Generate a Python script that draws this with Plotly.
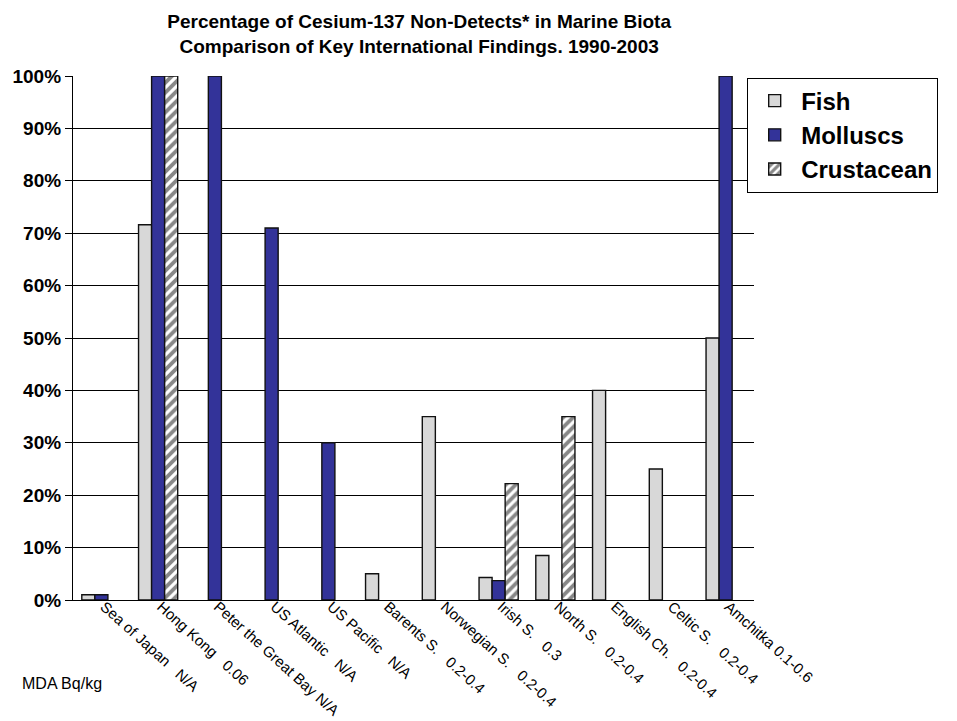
import plotly.graph_objects as go

# Sampling locations with MDA (Bq/kg) appended to each label
SP = "\u00a0\u00a0\u00a0"
locations = [
    "Sea of Japan" + SP + "N/A",
    "Hong Kong" + SP + "0.06",
    "Peter the Great Bay N/A",
    "US Atlantic" + SP + "N/A",
    "US Pacific" + SP + "N/A",
    "Barents S." + SP + "0.2-0.4",
    "Norwegian S." + SP + "0.2-0.4",
    "Irish S." + SP + "0.3",
    "North S." + SP + "0.2-0.4",
    "English Ch." + SP + "0.2-0.4",
    "Celtic S." + SP + "0.2-0.4",
    "Amchitka 0.1-0.6",
]

# Percentage of non-detects per biota group (None = no data)
fish = [1, 71.6, None, None, None, 5, 35, 4.3, 8.5, 40, 25, 50]
molluscs = [1, 100, 100, 71, 30, None, None, 3.7, None, None, None, 100]
crustacean = [None, 100, None, None, None, None, None, 22.2, 35, None, None, None]

FONT = "Liberation Sans, Arial, sans-serif"

fig = go.Figure()
fig.add_trace(go.Bar(
    name="Fish", x=locations, y=fish, legendgroup="a",
    marker=dict(color="#d8d8d8", line=dict(color="#111", width=1.4)),
))
fig.add_trace(go.Bar(
    name="Molluscs", x=locations, y=molluscs, legendgroup="b",
    marker=dict(color="#333399", line=dict(color="#111", width=1.4)),
))
fig.add_trace(go.Bar(
    name="Crustacean", x=locations, y=crustacean, legendgroup="c",
    marker=dict(
        color="white",
        line=dict(color="#111", width=1.4),
        pattern=dict(shape="/", fgcolor="#111", bgcolor="white",
                     size=7, solidity=0.55),
    ),
))

fig.update_layout(
    width=957, height=721,
    margin=dict(l=73, r=203, t=76, b=121),
    paper_bgcolor="white", plot_bgcolor="white",
    barmode="group", bargap=0.31, bargroupgap=0,
    font=dict(family=FONT, color="black"),
    title=dict(
        text="<b>Percentage of Cesium-137 Non-Detects* in Marine Biota<br>"
             "Comparison of Key International Findings. 1990-2003</b>",
        x=0.438, xanchor="center", xref="container",
        y=0.961, yanchor="top", yref="container",
        font=dict(size=19, family=FONT, color="black"),
    ),
    showlegend=True,
    legend=dict(
        x=0.99, xanchor="left", y=0.997, yanchor="top",
        bordercolor="black", borderwidth=1, bgcolor="white",
        font=dict(size=24, family=FONT, color="black", weight="bold"),
        tracegroupgap=1, traceorder="normal",
        itemwidth=43,
    ),
    xaxis=dict(
        tickangle=42, tickfont=dict(size=15, family=FONT, color="black"),
        ticklabelstandoff=-9, ticklabelshift=3,
        showline=True, linecolor="black", linewidth=1.2,
        ticks="", automargin=False, showgrid=False,
    ),
    yaxis=dict(
        range=[0, 100], dtick=10, ticksuffix="%",
        tickfont=dict(size=19, family=FONT, color="black", weight="bold"),
        showline=True, linecolor="black", linewidth=1.2,
        showgrid=True, gridcolor="black", gridwidth=1.2,
        ticks="outside", ticklen=7, tickcolor="black", tickwidth=1.2,
        zeroline=False, automargin=False,
    ),
    annotations=[dict(
        text="MDA Bq/kg", xref="paper", yref="paper",
        x=-0.078, y=-0.16, xanchor="left", yanchor="middle",
        showarrow=False, font=dict(size=16, family=FONT, color="black"),
    )],
)

fig.write_html("out.html")
